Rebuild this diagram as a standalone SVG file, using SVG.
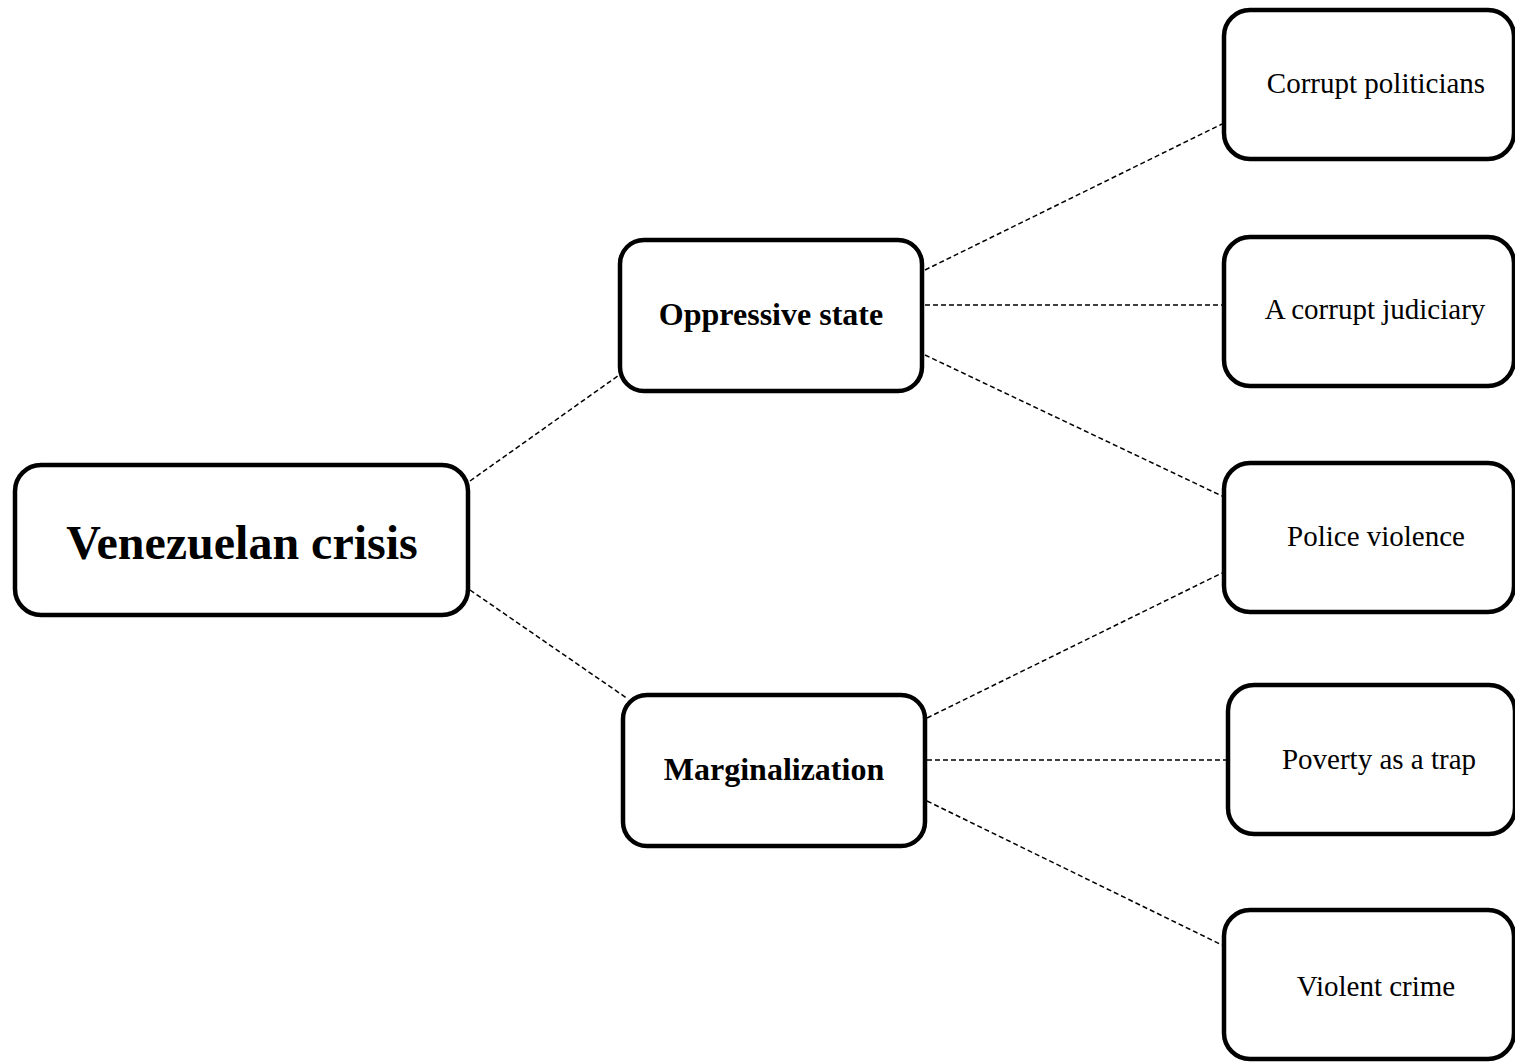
<svg xmlns="http://www.w3.org/2000/svg" width="1515" height="1062" viewBox="0 0 1515 1062">
  <style>
    .box { fill: #ffffff; stroke: #000000; stroke-width: 4.5; }
    .link { stroke: #000000; stroke-width: 1.5; stroke-dasharray: 5 3; fill: none; }
    .lbl { font-family: 'Liberation Serif', 'Times New Roman', Times, serif; fill: #000000; text-anchor: middle; }
    .root { font-size: 48px; font-weight: bold; }
    .mid { font-size: 32px; font-weight: bold; }
    .leaf { font-size: 29px; }
  </style>
  <rect width="1515" height="1062" fill="#ffffff"/>

  <g id="connectors">
    <line class="link" x1="470" y1="481" x2="622" y2="373"/>
    <line class="link" x1="470" y1="590" x2="628" y2="699"/>
    <line class="link" x1="925" y1="270" x2="1222" y2="124"/>
    <line class="link" x1="925" y1="305" x2="1222" y2="305"/>
    <line class="link" x1="925" y1="355" x2="1222" y2="496"/>
    <line class="link" x1="927" y1="718" x2="1222" y2="573"/>
    <line class="link" x1="927" y1="760" x2="1226" y2="760"/>
    <line class="link" x1="927" y1="801" x2="1222" y2="945"/>
  </g>

  <g id="venezuelan-crisis">
    <rect class="box" x="15" y="465" width="453" height="150" rx="26"/>
    <text class="lbl root" x="242" y="559">Venezuelan crisis</text>
  </g>

  <g id="oppressive-state">
    <rect class="box" x="620" y="240" width="302" height="151" rx="24"/>
    <text class="lbl mid" x="771" y="325">Oppressive state</text>
  </g>

  <g id="marginalization">
    <rect class="box" x="623" y="695" width="302" height="151" rx="24"/>
    <text class="lbl mid" x="774" y="780">Marginalization</text>
  </g>

  <g id="corrupt-politicians">
    <rect class="box" x="1224" y="10" width="290" height="149" rx="26"/>
    <text class="lbl leaf" x="1376" y="93">Corrupt politicians</text>
  </g>

  <g id="corrupt-judiciary">
    <rect class="box" x="1224" y="237" width="290" height="149" rx="26"/>
    <text class="lbl leaf" x="1375" y="319">A corrupt judiciary</text>
  </g>

  <g id="police-violence">
    <rect class="box" x="1224" y="463" width="290" height="149" rx="26"/>
    <text class="lbl leaf" x="1376" y="546">Police violence</text>
  </g>

  <g id="poverty-trap">
    <rect class="box" x="1228" y="685" width="287" height="149" rx="26"/>
    <text class="lbl leaf" x="1379" y="769">Poverty as a trap</text>
  </g>

  <g id="violent-crime">
    <rect class="box" x="1224" y="910" width="290" height="149" rx="26"/>
    <text class="lbl leaf" x="1376" y="996">Violent crime</text>
  </g>
</svg>
